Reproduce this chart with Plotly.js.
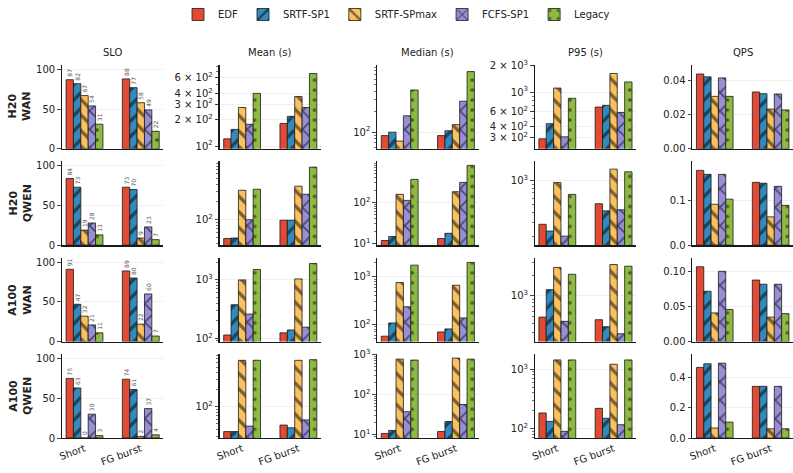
<!DOCTYPE html>
<html>
<head>
<meta charset="utf-8">
<script src="https://cdn.plot.ly/plotly-3.0.1.min.js"></script>
<style>html,body{margin:0;padding:0;background:#fff;}#chart{width:793px;height:473px;}</style>
</head>
<body>
<div id="chart"></div>
<script>
// ---------- data ----------
const categories = ['Short', 'FG burst'];
const policies = ['EDF', 'SRTF-SP1', 'SRTF-SPmax', 'FCFS-SP1', 'Legacy'];
const setupLabels = ['H20<br>WAN', 'H20<br>QWEN', 'A100<br>WAN', 'A100<br>QWEN'];
const metricTitles = ['SLO', 'Mean (s)', 'Median (s)', 'P95 (s)', 'QPS'];

// each array: one [Short, FG burst] pair per policy (EDF, SRTF-SP1, SRTF-SPmax, FCFS-SP1, Legacy)
const slo_h20_wan    = [[87, 88], [82, 77], [67, 58], [54, 49], [31, 22]];
const slo_h20_qwen   = [[84, 73], [73, 70], [19, 9], [28, 23], [13, 7]];
const slo_a100_wan   = [[91, 89], [47, 80], [32, 22], [21, 60], [11, 7]];
const slo_a100_qwen  = [[75, 74], [63, 61], [0, 2], [30, 37], [3, 4]];

const mean_h20_wan   = [[121, 181], [155, 218], [275, 367], [177, 275], [398, 670]];
const mean_h20_qwen  = [[48, 98], [49, 98], [316, 370], [100, 270], [329, 780]];
const mean_a100_wan  = [[114, 124], [376, 139], [1000, 1040], [260, 155], [1507, 1914]];
const mean_a100_qwen = [[36, 47], [36, 42], [658, 658], [45, 58], [660, 676]];

const median_h20_wan   = [[89, 89], [100, 105], [74, 129], [174, 285], [417, 776]];
const median_h20_qwen  = [[11.8, 13.2], [14.8, 17.7], [157, 182], [112, 307], [363, 797]];
const median_a100_wan  = [[57, 70], [108, 81], [760, 667], [236, 138], [1763, 2010]];
const median_a100_qwen = [[10.6, 11.9], [12.6, 21], [760, 807], [37, 56], [720, 760]];

const p95_h20_wan   = [[292, 675], [436, 706], [1113, 1634], [308, 585], [850, 1307]];
const p95_h20_qwen  = [[283, 512], [233, 417], [944, 1391], [201, 430], [671, 1287]];
const p95_a100_wan  = [[497, 456], [1233, 361], [2570, 2830], [432, 287], [2050, 2680]];
const p95_a100_qwen = [[182, 218], [131, 148], [1440, 1215], [89, 115], [1440, 1440]];

const qps_h20_wan   = [[0.0441, 0.0335], [0.0424, 0.0325], [0.0309, 0.0234], [0.0418, 0.0323], [0.0309, 0.0229]];
const qps_h20_qwen  = [[0.169, 0.142], [0.160, 0.140], [0.0925, 0.064], [0.160, 0.133], [0.104, 0.090]];
const qps_a100_wan  = [[0.107, 0.088], [0.072, 0.082], [0.041, 0.035], [0.1005, 0.082], [0.046, 0.040]];
const qps_a100_qwen = [[0.466, 0.341], [0.49, 0.341], [0.066, 0.061], [0.494, 0.341], [0.105, 0.061]];

// tick labels
const sloTicks = [0, 50, 100];
const qpsTicks = [[0, 0.02, 0.04], [0, 0.1], [0, 0.05, 0.10], [0, 0.2, 0.4]];
const qpsTickText = [['0.00', '0.02', '0.04'], ['0.0', '0.1'], ['0.00', '0.05', '0.10'], ['0.0', '0.2', '0.4']];
// labelled log ticks per [row][col-1]
const logLabelTicks = [
  [[100, 200, 300, 400, 600], [100], [300, 400, 600, 1000, 2000]],
  [[100], [10, 100], [1000]],
  [[100, 1000], [100, 1000], [1000]],
  [[100], [10, 100, 1000], [100, 1000]]
];

const grid = [
  [slo_h20_wan, mean_h20_wan, median_h20_wan, p95_h20_wan, qps_h20_wan],
  [slo_h20_qwen, mean_h20_qwen, median_h20_qwen, p95_h20_qwen, qps_h20_qwen],
  [slo_a100_wan, mean_a100_wan, median_a100_wan, p95_a100_wan, qps_a100_wan],
  [slo_a100_qwen, mean_a100_qwen, median_a100_qwen, p95_a100_qwen, qps_a100_qwen]
];

// ---------- style ----------
const colors = ['#E24A33', '#348ABD', '#FBC15E', '#988ED5', '#8EBA42'];
const patterns = [
  {shape: ''},
  {shape: '/', size: 11, solidity: 0.3},
  {shape: '\\', size: 11, solidity: 0.3},
  {shape: 'x', size: 13, solidity: 0.24},
  {shape: '.', size: 10, solidity: 0.11}
];
const W = 793, H = 473;
const colLeft = [62, 219.6, 377.2, 534.8, 692.4], colW = 101.3;
const rowTop = [65, 161.4, 257.8, 354.2], rowH = 83.8;
const axisColor = '#1a1a1a';

function fmtLog(v) {
  const e = Math.floor(Math.log10(v) + 1e-9);
  const m = Math.round(v / Math.pow(10, e));
  return m === 1 ? '10<sup>' + e + '</sup>' : m + ' × 10<sup>' + e + '</sup>';
}
function minorTicks(lo, hi) {
  const out = [];
  for (let e = Math.floor(Math.log10(lo)) - 1; e <= Math.ceil(Math.log10(hi)); e++) {
    for (let k = 2; k <= 9; k++) {
      const v = k * Math.pow(10, e);
      if (v >= lo && v <= hi) out.push(v);
    }
  }
  return out;
}

const traces = [];
const layout = {
  width: W, height: H,
  margin: {l: 0, r: 0, t: 0, b: 0},
  paper_bgcolor: '#ffffff', plot_bgcolor: '#ffffff',
  font: {family: 'DejaVu Sans, sans-serif', size: 10, color: '#222'},
  barmode: 'group', bargap: 0.345, bargroupgap: 0,
  showlegend: true,
  legend: {orientation: 'h', x: 0.5, xanchor: 'center', y: 1.0, yanchor: 'top',
           font: {size: 10}, itemwidth: 30, tracegroupgap: 0},
  annotations: []
};

for (let r = 0; r < 4; r++) {
  for (let c = 0; c < 5; c++) {
    const idx = r * 5 + c + 1;
    const sfx = idx === 1 ? '' : String(idx);
    const data = grid[r][c];
    policies.forEach((p, k) => {
      const t = {
        type: 'bar', x: categories, y: data[k],
        xaxis: 'x' + sfx, yaxis: 'y' + sfx,
        name: p, legendgroup: p, showlegend: idx === 1,
        marker: {color: colors[k], line: {color: axisColor, width: 0.8},
                 pattern: Object.assign({fgcolor: '#000', fillmode: 'overlay'}, patterns[k])},
        hoverinfo: 'skip'
      };
      if (c === 0) {
        t.text = data[k].map(v => String(v));
        t.textposition = 'outside';
        t.textangle = -90;
        t.textfont = {size: 6, color: '#555'};
        t.cliponaxis = false;
        t.constraintext = 'none';
      }
      traces.push(t);
    });

    const xd = [colLeft[c] / W, (colLeft[c] + colW) / W];
    const yd = [1 - (rowTop[r] + rowH) / H, 1 - rowTop[r] / H];
    const xa = {
      domain: xd, anchor: 'y' + sfx, type: 'category', range: [-0.4, 1.4],
      showline: true, linecolor: axisColor, linewidth: 1.3,
      showgrid: false, zeroline: false, ticks: '',
      showticklabels: r === 3, tickangle: -20, tickfont: {size: 10}, fixedrange: true
    };
    const ya = {
      domain: yd, anchor: 'x' + sfx,
      showline: true, linecolor: axisColor, linewidth: 1.3,
      showgrid: true, gridcolor: '#ececec', gridwidth: 0.8, zeroline: false,
      ticks: 'outside', ticklen: 3.5, tickwidth: 0.8, tickcolor: axisColor,
      tickfont: {size: 10}, fixedrange: true
    };
    if (c === 0) {
      ya.range = [0, 105.5];
      ya.tickmode = 'array'; ya.tickvals = sloTicks; ya.ticktext = sloTicks.map(String);
    } else if (c === 4) {
      const mx = Math.max(...data.flat());
      ya.range = [0, mx * 1.12];
      ya.tickmode = 'array'; ya.tickvals = qpsTicks[r]; ya.ticktext = qpsTickText[r];
    } else {
      const all = data.flat();
      const lo = Math.min(...all) * 0.77, hi = Math.max(...all) * 1.25;
      ya.type = 'log';
      ya.range = [Math.log10(lo), Math.log10(hi)];
      const labs = logLabelTicks[r][c - 1];
      ya.tickmode = 'array'; ya.tickvals = labs; ya.ticktext = labs.map(fmtLog);
      ya.minor = {tickmode: 'array', tickvals: minorTicks(lo, hi), ticks: 'outside',
                  ticklen: 2, tickwidth: 0.6, tickcolor: axisColor, showgrid: false};
    }
    layout['xaxis' + sfx] = xa;
    layout['yaxis' + sfx] = ya;

    if (r === 0) {
      layout.annotations.push({
        text: metricTitles[c], xref: 'paper', yref: 'paper',
        x: (colLeft[c] + colW / 2) / W, y: 1 - 52 / H,
        showarrow: false, font: {size: 10}, xanchor: 'center', yanchor: 'middle'
      });
    }
  }
  layout.annotations.push({
    text: '<b>' + setupLabels[r] + '</b>', xref: 'paper', yref: 'paper',
    x: 20 / W, y: 1 - (rowTop[r] + rowH / 2) / H, textangle: -90,
    showarrow: false, font: {size: 11}, xanchor: 'center', yanchor: 'middle'
  });
}

Plotly.newPlot('chart', traces, layout, {displayModeBar: false, staticPlot: true});
</script>
</body>
</html>
